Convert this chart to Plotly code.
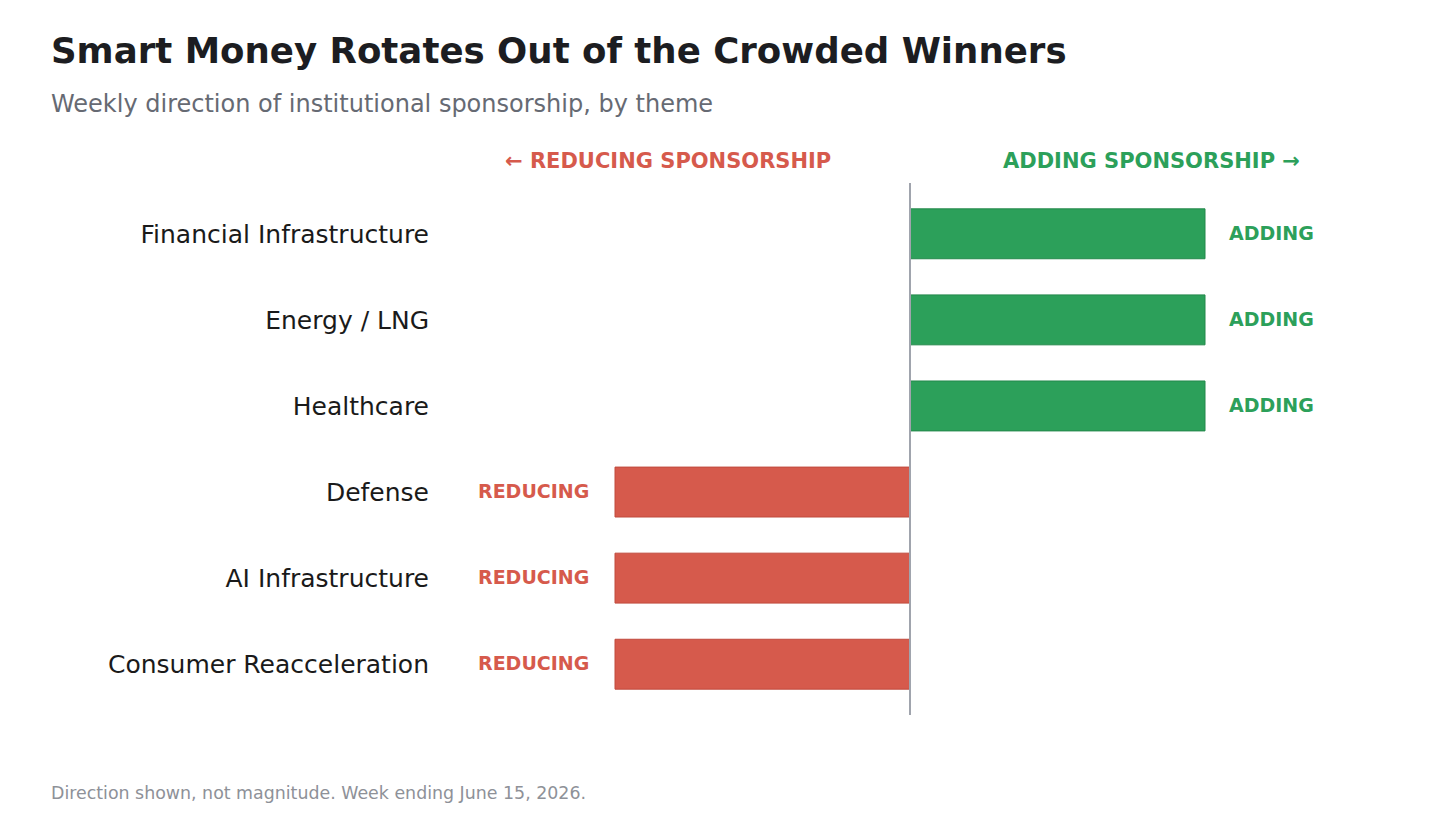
import plotly.graph_objects as go

# themes, top to bottom as shown
themes = [
    "Financial Infrastructure",
    "Energy / LNG",
    "Healthcare",
    "Defense",
    "AI Infrastructure",
    "Consumer Reacceleration",
]
# direction only: +1 adding, -1 reducing
direction = [1, 1, 1, -1, -1, -1]

GREEN = "#2ca05a"
RED = "#d65a4c"
FONT = "DejaVu Sans"

W, H = 1456, 832
PAGE_OFFSET = 8  # browser body margin
PLOT_L, PLOT_R = 430, 1374
PLOT_T, PLOT_B = 175, 707


def pyy(screen_y):
    # screen pixel row -> paper y
    return (PLOT_B - (screen_y - PAGE_OFFSET)) / (PLOT_B - PLOT_T)


def pxx(screen_x):
    # screen pixel column -> paper x
    return (screen_x - PAGE_OFFSET - PLOT_L) / (PLOT_R - PLOT_L)


colors = [GREEN if d > 0 else RED for d in direction]
edges = ["#23884b" if d > 0 else "#c04a3d" for d in direction]

fig = go.Figure()
fig.add_trace(go.Bar(
    x=direction,
    y=themes,
    orientation="h",
    marker=dict(color=colors, line=dict(color=edges, width=1)),
    width=0.58,
    hoverinfo="skip",
))

# value labels next to each bar
for name, d in zip(themes, direction):
    fig.add_annotation(
        x=d, y=name, xref="x", yref="y",
        text="<b>ADDING</b>" if d > 0 else "<b>REDUCING</b>",
        showarrow=False,
        xanchor="left" if d > 0 else "right", yanchor="middle",
        xshift=22 if d > 0 else -24, yshift=1,
        font=dict(family=FONT, size=19, color=GREEN if d > 0 else RED),
    )

# side headers
fig.add_annotation(x=-0.82, y=pyy(161), xref="x", yref="paper",
                   xanchor="center", yanchor="middle",
                   text="<b>← REDUCING SPONSORSHIP</b>", showarrow=False,
                   font=dict(family=FONT, size=21, color=RED))
fig.add_annotation(x=0.82, y=pyy(161), xref="x", yref="paper",
                   xanchor="center", yanchor="middle",
                   text="<b>ADDING SPONSORSHIP →</b>", showarrow=False,
                   font=dict(family=FONT, size=21, color=GREEN))

# title, subtitle, footnote
fig.add_annotation(x=pxx(49), y=pyy(50), xref="paper", yref="paper",
                   xanchor="left", yanchor="middle", showarrow=False,
                   text="<b>Smart Money Rotates Out of the Crowded Winners</b>",
                   font=dict(family=FONT, size=35.6, color="#1c1d21"))
fig.add_annotation(x=pxx(49), y=pyy(104), xref="paper", yref="paper",
                   xanchor="left", yanchor="middle", showarrow=False,
                   text="Weekly direction of institutional sponsorship, by theme",
                   font=dict(family=FONT, size=24, color="#666a73"))
fig.add_annotation(x=pxx(49), y=pyy(793), xref="paper", yref="paper",
                   xanchor="left", yanchor="middle", showarrow=False,
                   text="Direction shown, not magnitude. Week ending June 15, 2026.",
                   font=dict(family=FONT, size=17.4, color="#8e9198"))

# zero line
fig.add_shape(type="line", x0=0, x1=0, y0=0, y1=1, xref="x", yref="paper",
              line=dict(color="#a0a4ad", width=2))

fig.update_layout(
    width=W, height=H,
    margin=dict(l=PLOT_L, r=W - PLOT_R, t=PLOT_T, b=H - PLOT_B),
    paper_bgcolor="white",
    plot_bgcolor="white",
    showlegend=False,
    xaxis=dict(range=[-1.6, 1.6], visible=False, fixedrange=True),
    yaxis=dict(
        categoryorder="array", categoryarray=themes[::-1],
        range=[-0.59, 5.59],
        showgrid=False, zeroline=False, showline=False,
        ticks="", ticklabelstandoff=8,
        tickfont=dict(family=FONT, size=25, color="#1a1a1a"),
        fixedrange=True,
    ),
)

fig.write_html("out.html")
